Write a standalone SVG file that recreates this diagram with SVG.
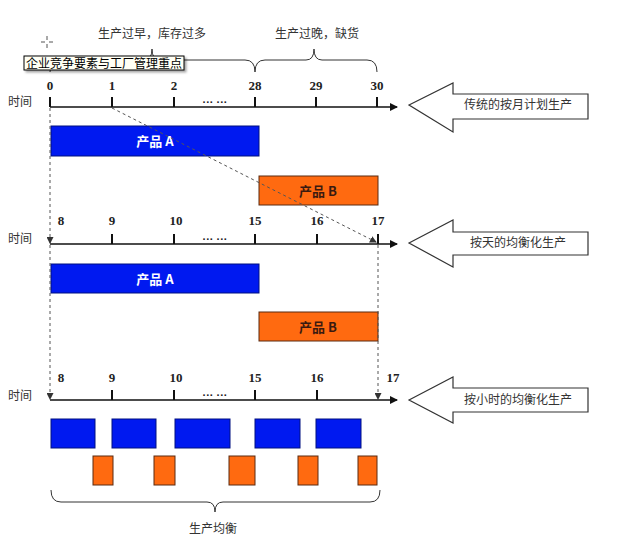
<svg xmlns="http://www.w3.org/2000/svg" width="622" height="544" viewBox="0 0 622 544">
<style>
.cn{font-family:"Noto Sans CJK SC","Noto Sans",sans-serif;font-size:12px;fill:#333}
.num{font-family:"Liberation Serif",serif;font-weight:bold;font-size:13px;fill:#222;text-anchor:middle}
.axis{stroke:#111;stroke-width:1.5;fill:none}
.tick{stroke:#111;stroke-width:2}
.blue{fill:#0019f0;stroke:#001080;stroke-width:1}
.orange{fill:#ff6a10;stroke:#5a2a10;stroke-width:1}
.big{fill:#fff;stroke:#333;stroke-width:1.2}
.dash{stroke:#555;stroke-width:1;stroke-dasharray:3,3;fill:none}
.brace{stroke:#333;stroke-width:1;fill:none}
.lbl{font-family:"Noto Sans CJK SC",sans-serif;font-weight:bold;font-size:13px;text-anchor:middle}
</style>
<defs>
<marker id="ah" markerWidth="8" markerHeight="8" refX="7" refY="4" orient="auto" markerUnits="userSpaceOnUse"><path d="M0,0 L8,4 L0,8 z" fill="#111"/></marker>
<marker id="dh" markerWidth="7" markerHeight="7" refX="6" refY="3.5" orient="auto" markerUnits="userSpaceOnUse"><path d="M0,0 L7,3.5 L0,7 z" fill="#333"/></marker>
<filter id="sh" x="-5%" y="-20%" width="115%" height="160%"><feDropShadow dx="2" dy="2" stdDeviation="1" flood-color="#000" flood-opacity="0.35"/></filter>
</defs>
<rect width="622" height="544" fill="#fff"/>

<g id="braces-top">
<path class="brace" d="M50,72 Q50,60 60,60 L144,60 Q152,60 152,49 Q152,60 160,60 L245,60 Q255,60 255,72"/>
<path class="brace" d="M255,72 Q255,60 265,60 L306,60 Q314,60 314,49 Q314,60 322,60 L367,60 Q377,60 377,72"/>
<text class="cn" x="152" y="38" text-anchor="middle">生产过早，库存过多</text>
<text class="cn" x="317" y="38" text-anchor="middle">生产过晚，缺货</text>
</g>

<g id="cursor" stroke="#555" stroke-width="1">
<line x1="47" y1="36" x2="47" y2="40"/><line x1="47" y1="44" x2="47" y2="48"/>
<line x1="41" y1="42" x2="45" y2="42"/><line x1="49" y1="42" x2="53" y2="42"/>
</g>

<g id="tooltip">
<rect x="24" y="56" width="160" height="14" fill="#fffff4" stroke="#000" stroke-width="1" filter="url(#sh)"/>
<text x="104" y="67.5" text-anchor="middle" style="font-family:'Noto Sans CJK SC',sans-serif;font-size:12px;fill:#000">企业竞争要素与工厂管理重点</text>
</g>

<g id="axis1">
<text class="cn" x="8" y="106">时间</text>
<line class="axis" x1="50" y1="107" x2="397" y2="107" marker-end="url(#ah)"/>
<line class="tick" x1="50" y1="97" x2="50" y2="107"/>
<line class="tick" x1="112" y1="97" x2="112" y2="107"/>
<line class="tick" x1="174" y1="97" x2="174" y2="107"/>
<line class="tick" x1="255" y1="97" x2="255" y2="107"/>
<line class="tick" x1="316" y1="97" x2="316" y2="107"/>
<line class="tick" x1="377" y1="97" x2="377" y2="107"/>
<text class="num" x="50" y="90">0</text>
<text class="num" x="112" y="90">1</text>
<text class="num" x="174" y="90">2</text>
<text class="num" x="255" y="90">28</text>
<text class="num" x="316" y="90">29</text>
<text class="num" x="377" y="90">30</text>
<text x="215" y="106" text-anchor="middle" style="font-family:'Liberation Sans',sans-serif;font-size:11px;font-weight:bold;fill:#222">··· ···</text>
</g>

<g id="bars1">
<rect class="blue" x="51" y="126" width="208" height="30"/>
<text class="lbl" x="155" y="146" fill="#fff">产品 A</text>
<rect class="orange" x="259" y="176" width="119" height="29"/>
<text class="lbl" x="318" y="196" fill="#3a1a10">产品 B</text>
</g>

<g id="arrow1">
<path class="big" d="M409,105 L453,83 L453,94 L588,94 L588,119 L453,119 L453,132 Z"/>
<text class="cn" x="518" y="109" text-anchor="middle">传统的按月计划生产</text>
</g>

<g id="axis2">
<text class="cn" x="8" y="243">时间</text>
<line class="axis" x1="50" y1="244" x2="397" y2="244" marker-end="url(#ah)"/>
<line class="tick" x1="112" y1="234" x2="112" y2="244"/>
<line class="tick" x1="174" y1="234" x2="174" y2="244"/>
<line class="tick" x1="255" y1="234" x2="255" y2="244"/>
<line class="tick" x1="317" y1="234" x2="317" y2="244"/>
<line class="tick" x1="378" y1="234" x2="378" y2="244"/>
<text class="num" x="61" y="225">8</text>
<text class="num" x="112" y="225">9</text>
<text class="num" x="176" y="225">10</text>
<text class="num" x="255" y="225">15</text>
<text class="num" x="317" y="225">16</text>
<text class="num" x="378" y="225">17</text>
<text x="215" y="243" text-anchor="middle" style="font-family:'Liberation Sans',sans-serif;font-size:11px;font-weight:bold;fill:#222">··· ···</text>
</g>

<g id="arrow2">
<path class="big" d="M409,243 L453,220 L453,232 L588,232 L588,255 L453,255 L453,267 Z"/>
<text class="cn" x="518" y="247" text-anchor="middle">按天的均衡化生产</text>
</g>

<g id="bars2">
<rect class="blue" x="51" y="264" width="208" height="29"/>
<text class="lbl" x="155" y="284" fill="#fff">产品 A</text>
<rect class="orange" x="259" y="312" width="119" height="29"/>
<text class="lbl" x="318" y="332" fill="#3a1a10">产品 B</text>
</g>

<g id="axis3">
<text class="cn" x="8" y="400">时间</text>
<line class="axis" x1="50" y1="400" x2="397" y2="400" marker-end="url(#ah)"/>
<line class="tick" x1="112" y1="390" x2="112" y2="400"/>
<line class="tick" x1="174" y1="390" x2="174" y2="400"/>
<line class="tick" x1="255" y1="390" x2="255" y2="400"/>
<line class="tick" x1="317" y1="390" x2="317" y2="400"/>
<text class="num" x="61" y="382">8</text>
<text class="num" x="112" y="382">9</text>
<text class="num" x="176" y="382">10</text>
<text class="num" x="255" y="382">15</text>
<text class="num" x="317" y="382">16</text>
<text class="num" x="393" y="382">17</text>
<text x="215" y="399" text-anchor="middle" style="font-family:'Liberation Sans',sans-serif;font-size:11px;font-weight:bold;fill:#222">··· ···</text>
</g>

<g id="arrow3">
<path class="big" d="M409,400 L453,377 L453,388 L588,388 L588,412 L453,412 L453,423 Z"/>
<text class="cn" x="518" y="404" text-anchor="middle">按小时的均衡化生产</text>
</g>

<g id="bars3">
<rect class="blue" x="51" y="419" width="44" height="29"/>
<rect class="blue" x="112" y="419" width="44" height="29"/>
<rect class="blue" x="175" y="419" width="55" height="29"/>
<rect class="blue" x="255" y="419" width="45" height="29"/>
<rect class="blue" x="316" y="419" width="45" height="29"/>
<rect class="orange" x="93" y="456" width="20" height="29"/>
<rect class="orange" x="154" y="456" width="21" height="29"/>
<rect class="orange" x="229" y="456" width="26" height="29"/>
<rect class="orange" x="298" y="456" width="20" height="29"/>
<rect class="orange" x="358" y="456" width="19" height="29"/>
</g>

<g id="brace-bottom">
<path class="brace" d="M51,490 Q51,502 61,502 L207,502 Q215,502 215,512 Q215,502 223,502 L370,502 Q380,502 380,490"/>
<text class="cn" x="213" y="533" text-anchor="middle">生产均衡</text>
</g>

<g id="connectors">
<line class="dash" x1="112" y1="108" x2="376" y2="242" marker-end="url(#dh)"/>
<line class="dash" x1="50" y1="108" x2="50" y2="243" marker-end="url(#dh)"/>
<line class="dash" x1="50" y1="245" x2="50" y2="399" marker-end="url(#dh)"/>
<line class="dash" x1="378" y1="245" x2="378" y2="399" marker-end="url(#dh)"/>
</g>
</svg>
